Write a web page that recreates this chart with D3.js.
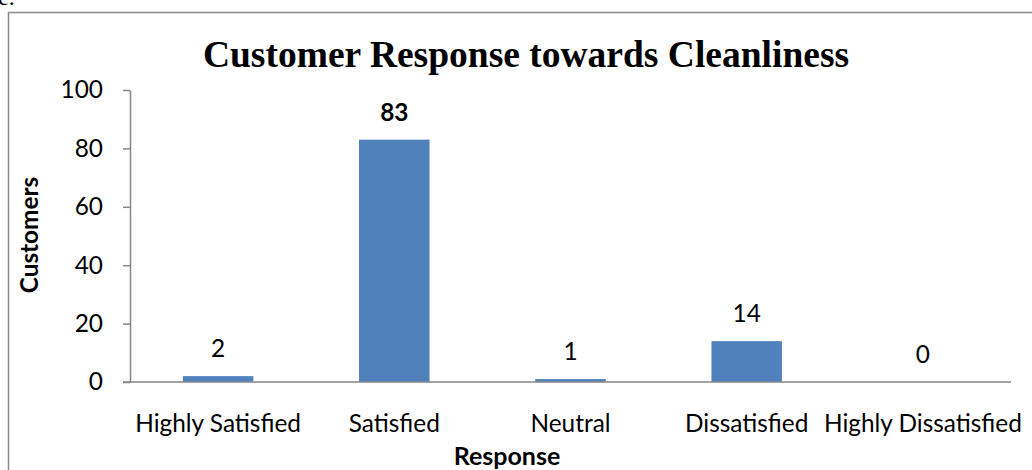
<!DOCTYPE html>
<html>
<head>
<meta charset="utf-8">
<script src="https://cdn.jsdelivr.net/npm/d3@7"></script>
<style>
  body { margin: 0; background: #fff; }
  svg { display: block; }
</style>
</head>
<body>
<div id="chart"></div>
<script>
    // chart data
    var categories = ["Highly Satisfied", "Satisfied", "Neutral", "Dissatisfied", "Highly Dissatisfied"];
    var customers = [2, 83, 1, 14, 0];
    var yTicks = [0, 20, 40, 60, 80, 100];
    var chartTitle = "Customer Response towards Cleanliness";
    var xTitle = "Response";
    var yTitle = "Customers";

    var width = 1032, height = 470;
    var labelFont = "Lato, 'Open Sans', sans-serif";
    var labelSize = 24.4;

    var svg = d3.select("#chart")
        .append("svg")
        .attr("width", width)
        .attr("height", height);

    // piece of the document text above the chart frame
    svg.append("text")
        .attr("x", -2)
        .attr("y", 5)
        .attr("font-family", "'Liberation Serif', serif")
        .attr("font-size", 24)
        .attr("fill", "#000")
        .text("e.");

    // chart frame
    svg.append("rect")
        .attr("x", 8.5)
        .attr("y", 12.5)
        .attr("width", 1040)
        .attr("height", 480)
        .attr("fill", "none")
        .attr("stroke", "#8a8a8a")
        .attr("stroke-width", 1.5);

    var plot = {left: 130, right: 1011, top: 90, bottom: 382};

    var x = d3.scaleBand()
        .domain(categories)
        .range([plot.left, plot.right])
        .paddingInner(0.6)
        .paddingOuter(0.3);

    var y = d3.scaleLinear()
        .domain([0, 100])
        .range([plot.bottom, plot.top]);

    // y axis
    var yAxis = svg.append("g")
        .attr("transform", "translate(" + plot.left + ",0)")
        .call(d3.axisLeft(y).tickValues(yTicks).tickSize(7).tickPadding(20).tickSizeOuter(0));
    yAxis.select(".domain").attr("stroke", "#868686").attr("stroke-width", 1.5);
    yAxis.selectAll(".tick line").attr("stroke", "#868686").attr("stroke-width", 1.5);
    yAxis.selectAll(".tick text")
        .attr("font-family", labelFont)
        .attr("font-size", labelSize)
        .attr("fill", "#000");

    // bars
    svg.append("g")
        .selectAll("rect")
        .data(customers)
        .enter()
        .append("rect")
        .attr("x", function (d, i) { return x(categories[i]); })
        .attr("y", function (d) { return y(d); })
        .attr("width", x.bandwidth())
        .attr("height", function (d) { return y(0) - y(d); })
        .attr("fill", "#4f81bd");

    // x axis (baseline only)
    var xAxis = svg.append("g")
        .attr("transform", "translate(0," + plot.bottom + ")")
        .call(d3.axisBottom(x).tickSize(0).tickPadding(33).tickSizeOuter(0));
    xAxis.select(".domain")
        .attr("d", "M" + (plot.left - 7) + ",0H" + plot.right)
        .attr("stroke", "#868686")
        .attr("stroke-width", 1.5);
    xAxis.selectAll(".tick text")
        .attr("font-family", labelFont)
        .attr("font-size", labelSize)
        .attr("fill", "#000");

    // value labels
    svg.append("g")
        .selectAll("text")
        .data(customers)
        .enter()
        .append("text")
        .attr("x", function (d, i) { return x(categories[i]) + x.bandwidth() / 2; })
        .attr("y", function (d) { return y(d) - 19; })
        .attr("text-anchor", "middle")
        .attr("font-family", labelFont)
        .attr("font-size", labelSize)
        .attr("font-weight", function (d, i) { return i === 1 ? "bold" : "normal"; })
        .attr("fill", "#000")
        .text(function (d) { return d; });

    // titles
    svg.append("text")
        .attr("x", 526)
        .attr("y", 67)
        .attr("text-anchor", "middle")
        .attr("font-family", "'Liberation Serif', 'Times New Roman', serif")
        .attr("font-weight", "bold")
        .attr("font-size", 37.5)
        .attr("fill", "#000")
        .text(chartTitle);

    svg.append("text")
        .attr("x", 507)
        .attr("y", 465)
        .attr("text-anchor", "middle")
        .attr("font-family", labelFont)
        .attr("font-weight", "bold")
        .attr("font-size", 25)
        .attr("fill", "#000")
        .text(xTitle);

    svg.append("text")
        .attr("transform", "translate(38,235) rotate(-90)")
        .attr("text-anchor", "middle")
        .attr("font-family", labelFont)
        .attr("font-weight", "bold")
        .attr("font-size", labelSize)
        .attr("fill", "#000")
        .text(yTitle);
</script>
</body>
</html>
